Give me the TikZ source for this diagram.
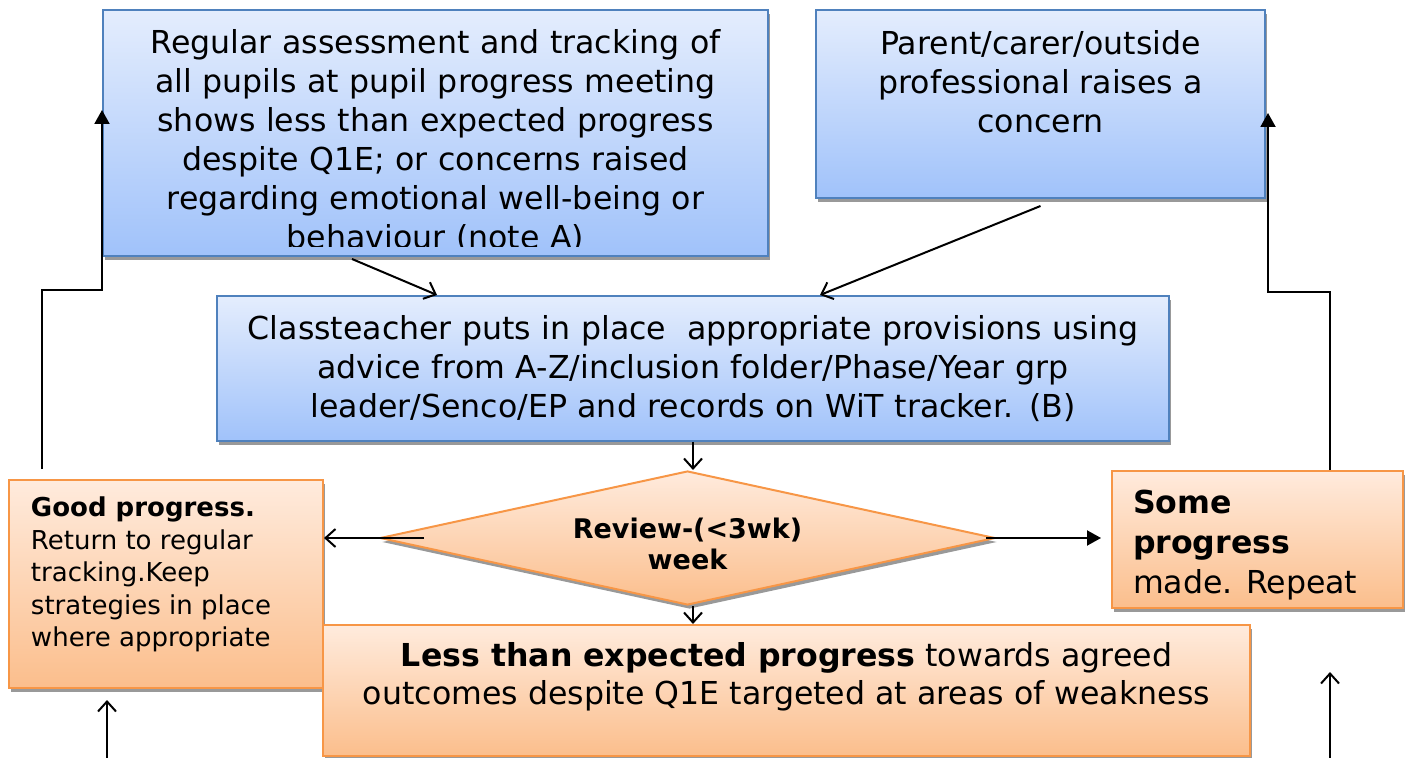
\documentclass[tikz,border=0pt]{standalone}
\usepackage{fontspec}
\setmainfont{DejaVu Sans}
\usetikzlibrary{shapes.geometric,shadows,arrows.meta}

\definecolor{blueTop}{RGB}{228,237,253}
\definecolor{blueBottom}{RGB}{160,194,250}
\definecolor{blueLine}{RGB}{79,129,189}
\definecolor{orangeTop}{RGB}{255,235,221}
\definecolor{orangeBottom}{RGB}{251,190,140}
\definecolor{orangeLine}{RGB}{247,150,70}

\begin{document}
\begin{tikzpicture}[x=0.5pt,y=-0.5pt,line width=1pt,
  box shadow/.style={drop shadow={shadow xshift=1pt,shadow yshift=-2pt,fill=black!40,opacity=1}},
  blue box/.style={rectangle,draw=blueLine,top color=blueTop,bottom color=blueBottom,
    box shadow,inner sep=0pt,align=center,font=\fontsize{15.8}{19.5}\selectfont},
  orange box/.style={rectangle,draw=orangeLine,top color=orangeTop,bottom color=orangeBottom,
    box shadow,inner sep=0pt,align=center,font=\fontsize{15.8}{19.5}\selectfont},
  review box/.style={diamond,draw=orangeLine,top color=orangeTop,bottom color=orangeBottom,
    box shadow,inner sep=0pt,aspect=4.6,font=\fontsize{13.5}{15.5}\selectfont\bfseries},
  open arrow/.style={-{Straight Barb[length=5pt,width=9pt]}},
  full arrow/.style={-{Triangle[length=7pt,width=7.5pt]}}]

  \useasboundingbox (0,0) rectangle (1406,758);

  % top row
  \node[blue box,minimum width=332.5pt,minimum height=123pt] (track) at (435.5,133) {};
  \begin{scope}
    \clip (track.north west) rectangle ([yshift=5pt]track.south east);
    \node[text width=320pt,align=center,font=\fontsize{15.8}{19.5}\selectfont] (tracktext) at (435.5,141)
      {Regular assessment and tracking of\\all pupils at pupil progress meeting\\shows less than expected progress\\despite Q1E; or concerns raised\\regarding emotional well-being or\\behaviour (note A)};
  \end{scope}
  \node[blue box,minimum width=224.5pt,minimum height=94pt] (parent) at (1040.5,104)
    {\parbox[c][73.5pt][t]{215pt}{\centering Parent/carer/outside\\professional raises a\\concern}};

  % middle
  \node[blue box,minimum width=476pt,minimum height=72.5pt,text width=460pt] (teacher) at (693,368.5)
    {Classteacher puts in place~ appropriate provisions using\\advice from A-Z/inclusion folder/Phase/Year grp\\leader/Senco/EP and records on WiT tracker. (B)};
  \node[review box,minimum width=307.5pt,minimum height=67pt] (review) at (687.5,538)
    {\parbox[c][32pt][b]{130pt}{\centering Review-(<3wk)\\week}};

  % outcomes
  \node[orange box,minimum width=157pt,minimum height=104pt,font=\fontsize{13}{16.25}\selectfont] (good) at (166,584)
    {\parbox[c][87pt][t]{135pt}{\raggedright\textbf{Good progress.}\\Return to regular\\tracking.Keep\\strategies in place\\where appropriate}};
  \node[orange box,minimum width=145.5pt,minimum height=68.5pt,font=\fontsize{15.8}{20}\selectfont] (some) at (1257.5,539.5)
    {\parbox[c][49.5pt][t]{124.5pt}{\raggedright\textbf{Some}\\\textbf{progress}\\made. Repeat}};
  \node[orange box,minimum width=463.5pt,minimum height=65.5pt,font=\fontsize{15.8}{19}\selectfont] (less) at (786.5,690.5)
    {\parbox[c][48pt][t]{450pt}{\centering\textbf{Less than expected progress} towards agreed\\outcomes despite Q1E targeted at areas of weakness}};

  \coordinate (goodin) at (107,758);
  \coordinate (somein) at (1330,758);

  % connectors
  \draw[open arrow] ([xshift=-41.75pt,yshift=-1pt]track.south) -- ([xshift=-128pt]teacher.north);
  \draw[open arrow] ([yshift=-3.5pt]parent.south) -- ([xshift=63.5pt]teacher.north);
  \draw[open arrow] (teacher.south) -- (teacher.south |- review.north);
  \draw[open arrow] (teacher.south |- review.south) -- (teacher.south |- less.north);
  \draw[open arrow] ([xshift=22.5pt]review.west) -- (review.west -| good.east);
  \draw[full arrow] ([xshift=-5pt]review.east) -- ([xshift=-5pt]review.east -| some.west);
  \draw[full arrow] ([xshift=-62pt,yshift=5pt]good.north) -- ++(0,-179) -| ([yshift=11.5pt]track.west);
  \draw[full arrow] ([xshift=36.25pt]some.north) -- ++(0,-178) -| ([xshift=1pt,yshift=-4.5pt]parent.east);
  \draw[open arrow] (goodin) -- ++(0,-58);
  \draw[open arrow] (somein) -- ++(0,-86);
\end{tikzpicture}
\end{document}
